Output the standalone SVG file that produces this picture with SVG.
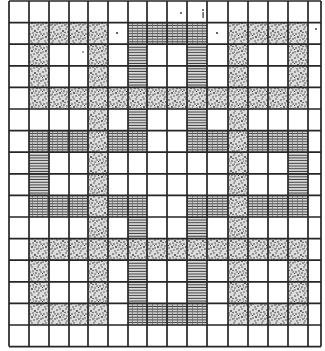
<svg xmlns="http://www.w3.org/2000/svg" width="325" height="351" viewBox="0 0 325 351">
  <style>
    .dot { fill: url(#dots); }
    .hl { fill: url(#hlines); }
    .xh { fill: url(#xhatch); }
    .grid { stroke: #262626; stroke-width: 1.7; fill: none; }
    .speck { fill: #333; }
  </style>
  <defs>
    <pattern id="dots" patternUnits="userSpaceOnUse" width="14" height="14">
      <rect width="14" height="14" fill="#dcdcdc"/>
      <g fill="#333">
        <circle cx="1" cy="2" r="0.8"/><circle cx="4" cy="1" r="0.7"/><circle cx="7" cy="3" r="0.9"/>
        <circle cx="10" cy="1" r="0.7"/><circle cx="12" cy="4" r="0.8"/><circle cx="2" cy="6" r="0.8"/>
        <circle cx="5" cy="5" r="0.7"/><circle cx="8" cy="7" r="0.8"/><circle cx="11" cy="8" r="0.7"/>
        <circle cx="13" cy="11" r="0.8"/><circle cx="1" cy="10" r="0.7"/><circle cx="4" cy="9" r="0.9"/>
        <circle cx="6" cy="12" r="0.7"/><circle cx="9" cy="11" r="0.8"/><circle cx="3" cy="13" r="0.7"/>
        <circle cx="11" cy="13" r="0.7"/><circle cx="7" cy="9" r="0.6"/><circle cx="13" cy="6" r="0.7"/>
        <circle cx="0.5" cy="7.5" r="0.6"/><circle cx="9" cy="4.5" r="0.7"/><circle cx="5.5" cy="7" r="0.5"/>
        <circle cx="10.5" cy="10" r="0.5"/>
      </g>
    </pattern>
    <pattern id="hlines" patternUnits="userSpaceOnUse" width="6" height="2.7">
      <rect width="6" height="2.7" fill="#e6e6e6"/>
      <line x1="0" y1="1.3" x2="6" y2="1.3" stroke="#3c3c3c" stroke-width="1.1"/>
    </pattern>
    <pattern id="xhatch" patternUnits="userSpaceOnUse" width="5" height="2.7">
      <rect width="5" height="2.7" fill="#e2e2e2"/>
      <line x1="0" y1="1.3" x2="5" y2="1.3" stroke="#3c3c3c" stroke-width="1.1"/>
      <line x1="2.5" y1="0" x2="2.5" y2="2.7" stroke="#6a6a6a" stroke-width="0.7"/>
    </pattern>
  </defs>
  <rect width="325" height="351" fill="#ffffff"/>

  <g id="dotted-figure">
    <rect class="dot" x="88" y="22.6" width="20" height="302.4"/>
    <rect class="dot" x="228" y="22.6" width="20" height="302.4"/>
    <rect class="dot" x="29" y="22.6" width="20" height="86.4"/>
    <rect class="dot" x="29" y="238.6" width="20" height="86.4"/>
    <rect class="dot" x="288" y="22.6" width="20" height="86.4"/>
    <rect class="dot" x="288" y="238.6" width="20" height="86.4"/>
    <rect class="dot" x="29" y="22.6" width="79" height="21.6"/>
    <rect class="dot" x="228" y="22.6" width="80" height="21.6"/>
    <rect class="dot" x="29" y="303.4" width="79" height="21.6"/>
    <rect class="dot" x="228" y="303.4" width="80" height="21.6"/>
    <rect class="dot" x="29" y="87.4" width="279" height="21.6"/>
    <rect class="dot" x="29" y="238.6" width="279" height="21.6"/>
  </g>

  <g id="hatched-figure">
    <rect class="hl" x="128" y="44.2" width="19" height="43.2"/>
    <rect class="hl" x="128" y="109" width="19" height="21.6"/>
    <rect class="hl" x="128" y="217" width="19" height="21.6"/>
    <rect class="hl" x="128" y="260.2" width="19" height="43.2"/>
    <rect class="hl" x="187" y="44.2" width="20" height="43.2"/>
    <rect class="hl" x="187" y="109" width="20" height="21.6"/>
    <rect class="hl" x="187" y="217" width="20" height="21.6"/>
    <rect class="hl" x="187" y="260.2" width="20" height="43.2"/>
    <rect class="hl" x="29" y="152.2" width="20" height="43.2"/>
    <rect class="hl" x="288" y="152.2" width="20" height="43.2"/>
    <rect class="xh" x="128" y="22.6" width="79" height="21.6"/>
    <rect class="xh" x="128" y="303.4" width="79" height="21.6"/>
    <rect class="xh" x="29" y="130.6" width="59" height="21.6"/>
    <rect class="xh" x="108" y="130.6" width="39" height="21.6"/>
    <rect class="xh" x="187" y="130.6" width="41" height="21.6"/>
    <rect class="xh" x="248" y="130.6" width="60" height="21.6"/>
    <rect class="xh" x="29" y="195.4" width="59" height="21.6"/>
    <rect class="xh" x="108" y="195.4" width="39" height="21.6"/>
    <rect class="xh" x="187" y="195.4" width="41" height="21.6"/>
    <rect class="xh" x="248" y="195.4" width="60" height="21.6"/>
  </g>

  <g id="grid">
    <path class="grid" d="M9 1V346.6 M29 1V346.6 M49 1V346.6 M69 1V346.6 M88 1V346.6 M108 1V346.6 M128 1V346.6 M147 1V346.6 M167 1V346.6 M187 1V346.6 M207 1V346.6 M228 1V346.6 M248 1V346.6 M268 1V346.6 M288 1V346.6 M308 1V346.6 M321 1V346.6"/>
    <path class="grid" d="M9 1H321 M9 22.6H321 M9 44.2H321 M9 65.8H321 M9 87.4H321 M9 109H321 M9 130.6H321 M9 152.2H321 M9 173.8H321 M9 195.4H321 M9 217H321 M9 238.6H321 M9 260.2H321 M9 281.8H321 M9 303.4H321 M9 325H321 M9 346.6H321"/>
  </g>

  <g id="specks">
    <circle class="speck" cx="117" cy="33" r="1"/>
    <circle class="speck" cx="83" cy="52" r="0.8"/>
    <circle class="speck" cx="181" cy="13" r="0.9"/>
    <circle class="speck" cx="203" cy="10" r="0.9"/>
    <rect class="speck" x="202.5" y="12" width="1.2" height="6"/>
    <circle class="speck" cx="217" cy="33" r="1"/>
    <circle class="speck" cx="316" cy="29" r="0.9"/>
  </g>
</svg>
